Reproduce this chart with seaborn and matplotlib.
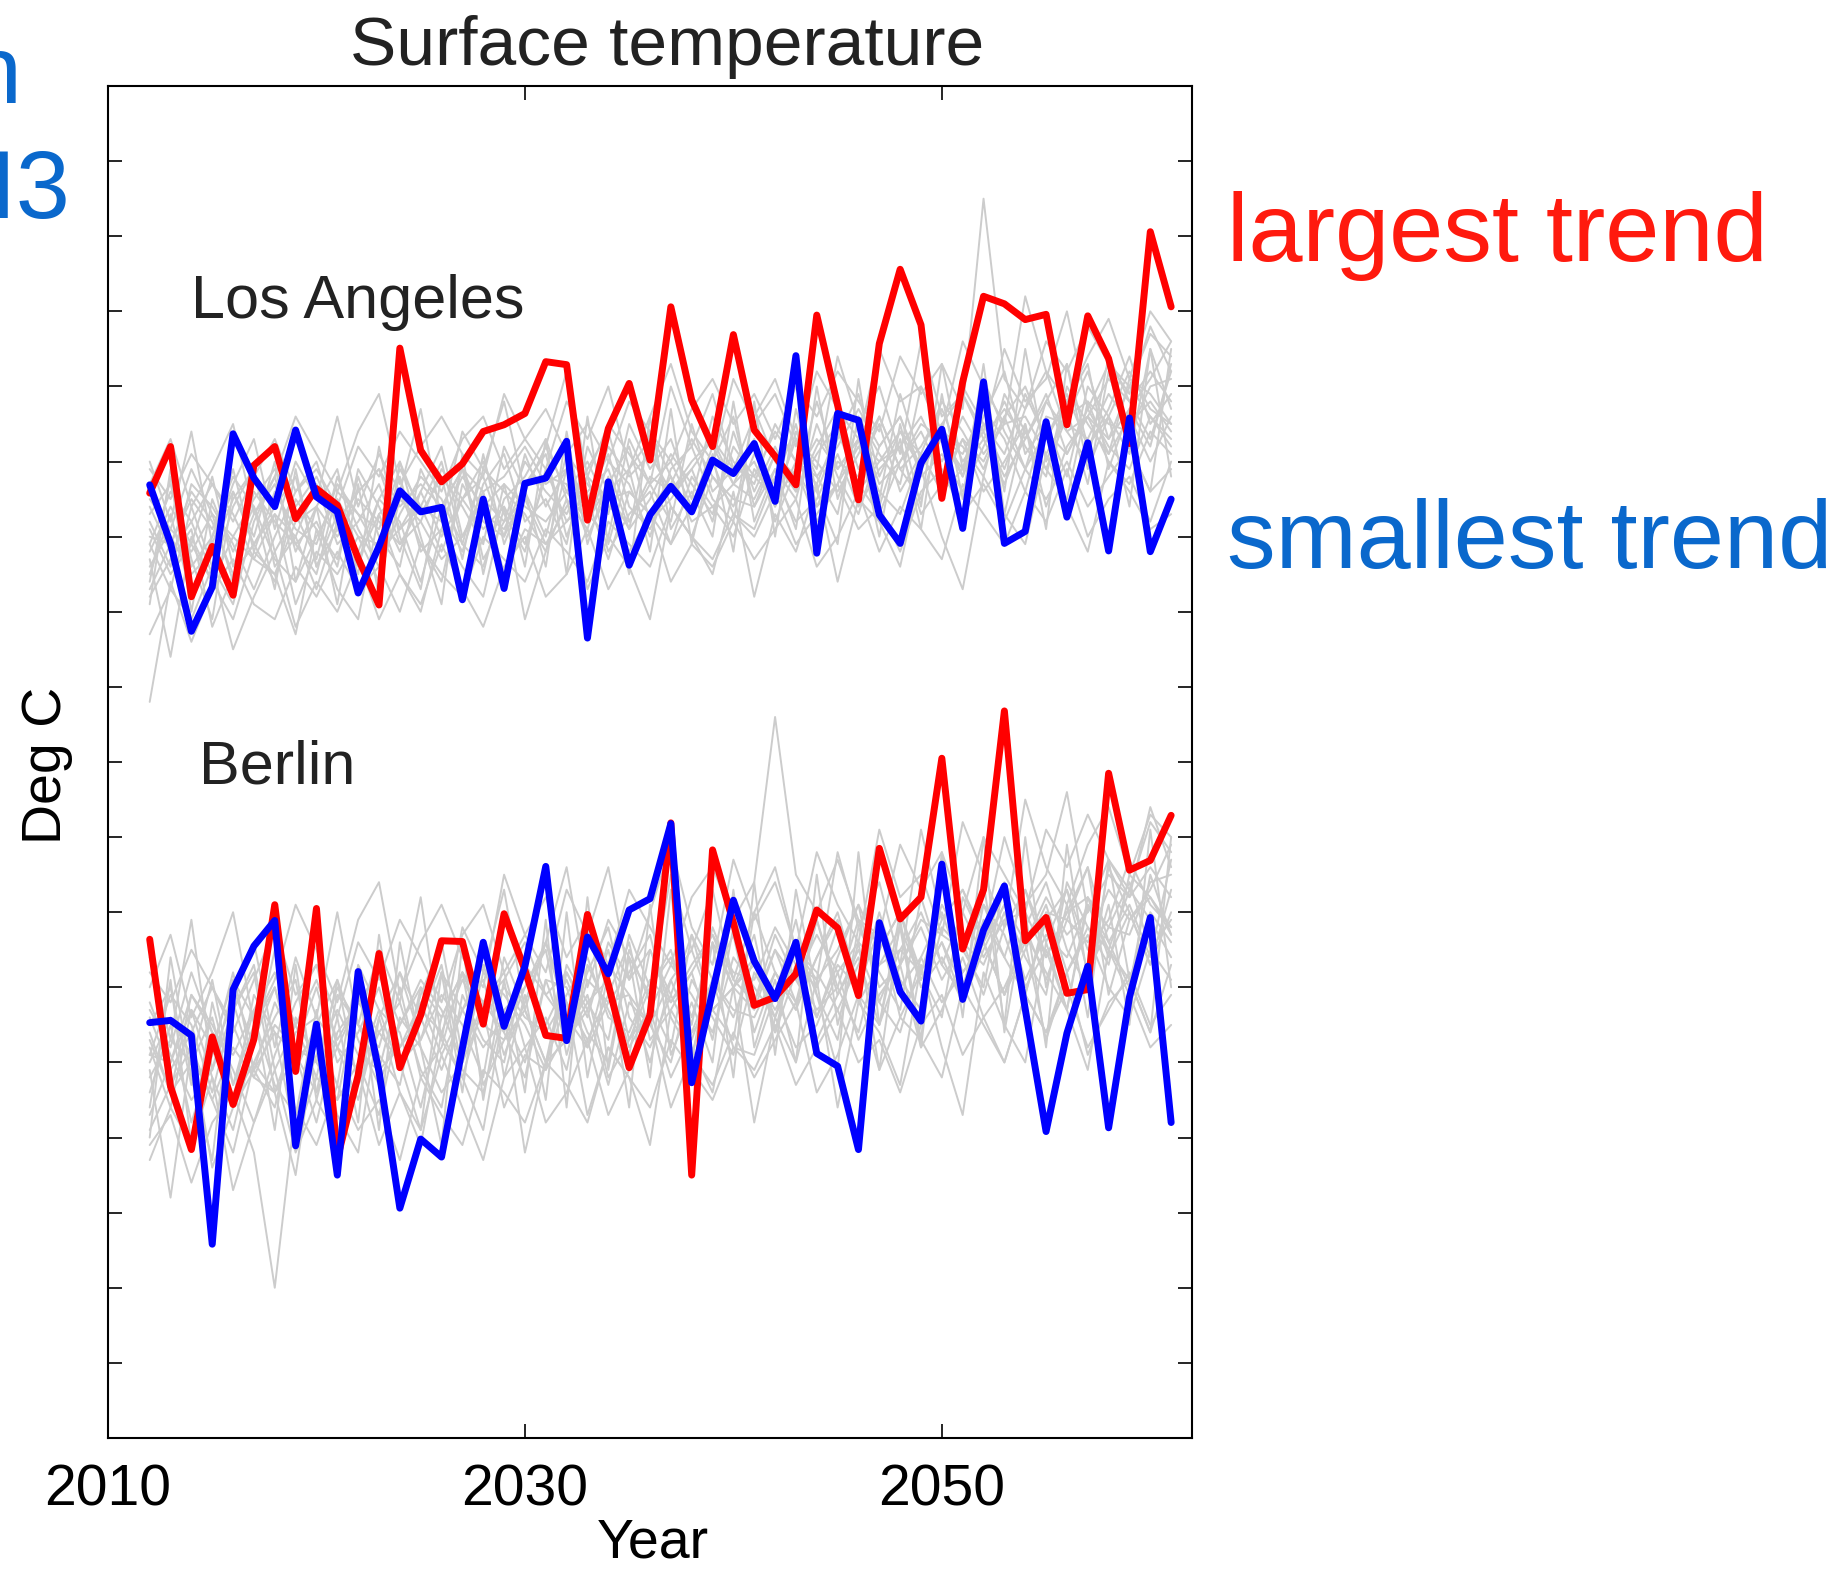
import numpy as np
import pandas as pd
import matplotlib
matplotlib.use("Agg")
import matplotlib.pyplot as plt
import seaborn as sns

# ---------------- data ----------------
years = list(range(2012, 2062))

la_largest = [12.58, 13.20, 11.20, 11.87, 11.22, 12.95, 13.20, 12.24, 12.64, 12.42,
              11.71, 11.09, 14.51, 13.15, 12.73, 12.97, 13.40, 13.49, 13.64, 14.33,
              14.29, 12.22, 13.44, 14.04, 13.02, 15.06, 13.82, 13.20, 14.69, 13.42,
              13.07, 12.69, 14.95, 13.75, 12.49, 14.57, 15.56, 14.82, 12.51, 14.06,
              15.20, 15.10, 14.89, 14.96, 13.49, 14.94, 14.37, 13.24, 16.06, 15.06]
la_smallest = [12.69, 11.91, 10.74, 11.33, 13.37, 12.78, 12.40, 13.42, 12.53, 12.33,
               11.25, 11.87, 12.61, 12.33, 12.39, 11.16, 12.50, 11.31, 12.71, 12.78,
               13.27, 10.65, 12.73, 11.62, 12.29, 12.67, 12.33, 13.02, 12.84, 13.24,
               12.47, 14.41, 11.78, 13.64, 13.55, 12.29, 11.91, 12.98, 13.43, 12.11,
               14.06, 11.91, 12.07, 13.53, 12.26, 13.25, 11.81, 13.58, 11.80, 12.50]
berlin_largest = [6.64, 4.68, 3.84, 5.34, 4.44, 5.31, 7.10, 4.88, 7.05, 3.72,
                  4.83, 6.45, 4.93, 5.63, 6.62, 6.61, 5.51, 6.98, 6.23, 5.36,
                  5.32, 6.97, 6.04, 4.93, 5.63, 8.19, 3.50, 7.83, 6.86, 5.76,
                  5.87, 6.18, 7.03, 6.79, 5.89, 7.85, 6.91, 7.20, 9.05, 6.51,
                  7.30, 9.68, 6.62, 6.93, 5.92, 5.97, 8.85, 7.56, 7.69, 8.29]
berlin_smallest = [5.53, 5.56, 5.36, 2.58, 5.97, 6.55, 6.89, 3.89, 5.51, 3.50,
                   6.21, 4.88, 3.06, 3.98, 3.74, 5.19, 6.60, 5.48, 6.28, 7.61,
                   5.29, 6.67, 6.18, 7.03, 7.18, 8.18, 4.73, 5.94, 7.16, 6.35,
                   5.85, 6.60, 5.12, 4.95, 3.84, 6.86, 5.94, 5.55, 7.64, 5.84,
                   6.76, 7.35, 5.71, 4.08, 5.39, 6.28, 4.13, 5.87, 6.93, 4.20]

# other ensemble members (grey)
la_m1 = [11.5, 12.3, 11.2, 12.0, 12.6, 11.9, 11.4, 12.5, 12.1, 11.7,
         12.8, 12.0, 11.6, 12.9, 12.3, 11.8, 12.7, 13.1, 12.2, 12.5,
         11.9, 13.2, 12.6, 12.1, 13.4, 12.8, 12.3, 13.0, 13.6, 12.4,
         13.1, 12.7, 13.8, 12.9, 13.3, 12.5, 13.9, 13.0, 13.5, 12.8,
         14.1, 13.4, 12.9, 13.8, 14.3, 13.2, 13.7, 14.4, 13.5, 13.9]
la_m2 = [11.9, 11.3, 12.4, 11.6, 11.1, 12.2, 12.8, 11.8, 12.4, 12.9,
         11.7, 12.3, 12.6, 11.9, 11.4, 12.7, 12.2, 12.0, 13.1, 12.4,
         12.9, 12.3, 12.0, 13.3, 12.7, 12.2, 13.5, 12.6, 12.9, 13.2,
         12.4, 13.4, 12.8, 12.3, 13.6, 13.1, 12.7, 14.0, 13.3, 12.9,
         13.6, 14.2, 13.1, 13.5, 12.8, 14.0, 13.6, 13.1, 14.5, 13.7]
la_m3 = [12.6, 12.0, 11.5, 11.8, 12.5, 12.9, 11.6, 12.0, 11.3, 12.2,
         12.6, 12.9, 12.1, 12.4, 13.0, 11.9, 11.6, 12.5, 12.8, 13.3,
         12.5, 12.1, 13.0, 12.7, 12.0, 12.9, 13.2, 12.5, 12.2, 13.7,
         13.0, 12.6, 13.2, 13.7, 12.9, 13.5, 12.6, 13.1, 13.8, 13.4,
         12.9, 13.6, 14.0, 13.3, 13.8, 14.3, 12.9, 13.7, 14.1, 14.6]
la_m4 = [11.2, 11.7, 12.1, 10.8, 11.5, 11.9, 12.3, 11.1, 11.8, 11.5,
         12.0, 11.4, 12.5, 12.2, 11.7, 12.0, 12.6, 11.5, 12.1, 11.9,
         12.4, 12.8, 11.8, 12.3, 12.6, 11.9, 12.4, 13.0, 12.3, 12.1,
         12.8, 12.2, 12.5, 13.1, 12.4, 12.9, 13.2, 12.3, 12.7, 13.3,
         12.6, 13.0, 13.5, 12.4, 13.2, 13.6, 13.0, 12.7, 13.4, 13.1]
la_m5 = [12.2, 11.6, 12.7, 12.4, 11.9, 11.3, 12.0, 12.6, 13.0, 12.1,
         11.6, 12.5, 13.0, 12.3, 12.8, 12.4, 11.9, 13.2, 12.6, 12.0,
         13.1, 12.7, 12.3, 13.5, 12.9, 13.3, 12.5, 13.6, 13.0, 12.7,
         13.5, 13.0, 12.6, 13.3, 13.9, 12.8, 13.4, 13.1, 12.6, 14.0,
         13.5, 12.9, 13.7, 14.2, 13.4, 13.0, 14.4, 13.8, 13.3, 14.2]
la_m6 = [11.6, 12.1, 11.8, 12.3, 11.4, 12.6, 12.2, 11.9, 11.5, 12.6,
         12.3, 11.8, 12.1, 12.6, 12.0, 12.5, 13.0, 12.3, 11.8, 12.9,
         12.2, 12.6, 12.9, 12.1, 12.5, 13.1, 12.7, 12.3, 13.2, 12.8,
         12.5, 13.3, 13.0, 12.6, 13.1, 13.6, 12.9, 13.2, 13.7, 13.0,
         13.4, 12.8, 13.3, 13.9, 13.1, 13.6, 13.3, 14.0, 13.6, 13.2]
la_m7 = [9.8, 11.4, 10.6, 11.3, 11.7, 11.1, 10.9, 11.6, 11.2, 11.8,
         11.3, 11.6, 11.0, 11.9, 11.5, 11.2, 12.0, 11.7, 11.4, 12.1,
         11.8, 11.4, 12.2, 11.9, 11.6, 12.4, 12.0, 11.7, 12.3, 12.0,
         12.6, 11.9, 12.3, 12.7, 12.1, 12.4, 11.8, 12.6, 12.9, 12.3,
         12.7, 12.2, 12.9, 12.5, 13.0, 12.4, 12.8, 13.2, 12.6, 12.9]
la_m8 = [12.9, 12.5, 13.1, 12.7, 12.2, 12.8, 13.3, 12.6, 12.9, 12.4,
         13.2, 12.8, 13.4, 13.0, 12.6, 13.3, 13.6, 12.9, 13.3, 13.7,
         13.1, 13.5, 13.0, 13.8, 13.4, 13.0, 13.7, 14.1, 13.5, 13.9,
         13.3, 14.0, 13.6, 14.2, 13.8, 13.4, 14.4, 13.9, 14.3, 13.7,
         16.5, 14.1, 13.7, 14.6, 14.2, 14.8, 14.3, 14.0, 14.7, 14.4]
la_m9 = [11.8, 12.4, 11.9, 11.4, 12.0, 11.7, 12.3, 12.0, 12.7, 11.9,
         12.2, 12.7, 11.9, 12.2, 12.9, 12.5, 12.1, 12.4, 11.9, 12.8,
         12.7, 12.0, 12.6, 12.9, 13.3, 12.4, 12.0, 12.8, 12.5, 12.4,
         12.9, 12.5, 13.5, 12.8, 12.3, 13.2, 13.6, 12.8, 13.1, 12.6,
         13.2, 13.8, 13.2, 12.8, 14.0, 13.5, 13.1, 14.1, 13.9, 13.5]
la_m10 = [12.4, 11.8, 12.2, 12.7, 12.3, 11.7, 11.5, 12.2, 12.4, 12.0,
          12.5, 12.2, 11.9, 12.4, 12.2, 12.8, 12.4, 12.7, 12.4, 12.2,
          12.6, 13.0, 12.4, 12.2, 12.8, 12.6, 12.9, 13.3, 12.7, 12.5,
          13.1, 12.8, 13.3, 12.9, 13.3, 13.0, 13.2, 13.6, 13.0, 13.6,
          13.1, 13.5, 13.6, 13.1, 13.6, 13.8, 13.5, 13.4, 14.0, 14.1]
la_m11 = [11.4, 12.8, 11.0, 12.5, 11.8, 12.4, 11.3, 12.9, 11.6, 12.3,
          11.5, 13.2, 12.0, 11.3, 12.8, 11.7, 13.1, 11.9, 12.6, 11.6,
          13.4, 11.9, 12.8, 11.5, 13.6, 12.1, 12.6, 12.0, 13.8, 12.2,
          12.9, 12.1, 14.0, 12.5, 13.3, 12.0, 13.5, 12.4, 14.3, 12.9,
          13.9, 12.6, 14.5, 13.0, 13.7, 12.7, 14.2, 13.2, 12.6, 14.5]
la_m12 = [12.0, 11.9, 12.5, 12.1, 12.8, 12.4, 11.7, 11.4, 12.0, 12.5,
          12.0, 11.9, 12.8, 11.8, 12.1, 12.9, 12.3, 12.1, 12.7, 13.1,
          12.0, 12.8, 12.5, 12.6, 12.3, 12.8, 12.2, 12.4, 12.7, 13.3,
          12.2, 12.9, 12.4, 12.7, 13.5, 12.7, 13.0, 13.5, 13.3, 13.1,
          13.7, 13.3, 12.6, 13.6, 13.5, 13.3, 13.9, 13.5, 13.8, 13.4]
la_m13 = [13.0, 12.2, 13.4, 11.9, 12.7, 13.3, 12.1, 13.0, 12.5, 13.6,
          12.4, 13.1, 12.6, 13.7, 12.2, 13.4, 12.9, 13.8, 12.6, 13.2,
          14.2, 12.8, 13.5, 13.1, 12.7, 14.0, 13.2, 13.9, 12.9, 13.6,
          14.1, 13.3, 12.9, 14.4, 13.5, 14.0, 13.1, 14.6, 13.6, 13.9,
          13.4, 14.5, 13.8, 14.1, 15.0, 13.7, 14.3, 13.9, 14.8, 14.2]
la_m14 = [10.7, 11.3, 10.9, 11.6, 10.5, 11.2, 11.8, 10.8, 11.4, 11.0,
          11.7, 10.9, 11.5, 11.1, 11.9, 11.3, 10.8, 11.6, 12.0, 11.2,
          11.5, 12.1, 11.3, 11.8, 12.3, 11.4, 11.9, 11.6, 12.2, 11.7,
          12.1, 12.5, 11.6, 12.0, 12.6, 11.8, 12.4, 12.1, 11.7, 12.7,
          12.3, 11.9, 12.6, 12.2, 12.9, 12.0, 12.5, 12.8, 12.2, 13.0]
la_m15 = [12.1, 11.5, 11.9, 12.8, 11.6, 12.3, 12.7, 11.9, 12.2, 11.6,
          12.9, 12.4, 11.8, 12.6, 13.2, 12.0, 12.5, 12.2, 13.0, 12.6,
          12.3, 12.9, 13.4, 12.4, 12.1, 12.7, 13.3, 12.8, 12.4, 13.1,
          12.7, 13.5, 12.4, 13.0, 12.8, 13.6, 12.9, 12.5, 13.4, 13.2,
          12.8, 13.9, 13.4, 12.9, 13.6, 14.2, 13.3, 13.7, 13.2, 14.3]
la_m16 = [11.7, 10.4, 12.0, 11.4, 10.9, 11.8, 11.5, 10.7, 12.1, 11.3,
          10.9, 12.3, 11.5, 11.0, 12.1, 11.6, 11.2, 12.4, 10.9, 11.8,
          12.5, 11.3, 12.0, 11.6, 10.9, 12.4, 12.0, 11.5, 12.6, 11.2,
          12.3, 11.8, 12.7, 11.4, 12.5, 12.2, 11.6, 12.9, 12.0, 11.3,
          12.8, 12.3, 11.9, 13.1, 12.4, 11.8, 13.0, 12.6, 12.1, 12.3]
la_m17 = [12.7, 13.3, 12.4, 12.9, 13.5, 12.3, 12.8, 13.6, 13.1, 12.6,
          13.4, 13.9, 12.7, 13.2, 13.6, 13.1, 12.8, 13.9, 13.3, 12.9,
          13.8, 13.3, 14.0, 12.9, 13.6, 14.3, 13.4, 13.0, 14.1, 13.5,
          13.9, 13.2, 14.2, 13.7, 13.3, 14.5, 13.8, 14.0, 13.4, 14.6,
          14.0, 13.5, 15.2, 14.2, 13.8, 14.4, 14.9, 14.1, 15.0, 14.6]
la_m18 = [11.9, 12.6, 12.2, 11.5, 12.4, 12.9, 11.8, 12.3, 11.7, 12.8,
          12.1, 11.6, 12.3, 12.8, 12.5, 11.9, 12.9, 12.6, 12.3, 11.8,
          12.9, 12.5, 13.1, 12.2, 12.7, 13.0, 12.4, 13.2, 12.7, 13.0,
          12.4, 13.0, 12.7, 13.4, 12.7, 12.3, 13.0, 13.4, 12.8, 13.3,
          13.0, 13.6, 12.9, 13.4, 13.1, 13.7, 13.2, 12.9, 13.6, 13.3]
la_m19 = [11.3, 11.9, 12.6, 12.2, 11.5, 11.9, 12.4, 12.8, 11.6, 12.1,
          11.8, 12.5, 12.2, 11.4, 12.4, 12.9, 11.7, 12.2, 12.5, 11.9,
          12.2, 12.5, 11.7, 12.6, 12.3, 11.9, 12.8, 12.4, 12.0, 12.9,
          12.5, 12.9, 12.2, 12.7, 13.2, 12.6, 12.3, 13.1, 12.6, 12.9,
          13.3, 12.7, 13.4, 12.9, 12.5, 13.8, 13.1, 13.6, 13.0, 13.6]
la_m20 = [12.3, 12.7, 11.6, 12.0, 12.9, 11.8, 12.6, 12.1, 11.9, 12.7,
          12.3, 12.1, 12.9, 12.4, 11.8, 12.5, 12.8, 12.0, 12.6, 13.2,
          12.6, 12.2, 12.7, 13.2, 12.2, 12.5, 12.9, 12.2, 13.4, 12.6,
          13.2, 12.6, 13.1, 13.5, 12.6, 13.0, 13.4, 12.9, 13.3, 12.8,
          13.5, 13.1, 13.9, 13.3, 13.9, 13.2, 13.6, 14.2, 13.7, 13.5]
la_m21 = [11.1, 12.9, 11.7, 10.9, 12.6, 12.0, 13.0, 11.4, 12.4, 11.1,
          12.7, 11.2, 13.0, 12.0, 11.1, 13.1, 11.5, 12.7, 11.6, 13.3,
          11.5, 13.6, 11.9, 12.9, 11.8, 13.7, 11.9, 13.1, 11.8, 13.8,
          12.0, 13.7, 12.6, 11.9, 14.1, 12.4, 13.3, 12.1, 13.9, 12.5,
          14.3, 12.3, 13.5, 12.1, 14.3, 12.9, 13.6, 12.4, 14.5, 12.8]
la_m22 = [12.5, 12.1, 12.9, 12.3, 12.0, 12.5, 12.9, 12.4, 12.8, 12.2,
          12.6, 12.9, 12.4, 12.7, 12.4, 12.9, 12.6, 12.8, 13.2, 12.7,
          12.9, 12.4, 13.2, 12.8, 13.1, 12.6, 13.0, 13.3, 12.9, 12.8,
          13.4, 13.0, 12.8, 13.2, 13.7, 13.2, 13.6, 12.9, 13.5, 13.9,
          13.3, 13.7, 13.3, 13.8, 13.4, 13.6, 14.1, 13.8, 14.2, 13.8]

be_m1 = [4.6, 5.5, 4.2, 5.1, 5.8, 4.9, 4.4, 5.6, 5.0, 4.5,
         5.9, 5.1, 4.7, 6.0, 5.3, 4.8, 5.8, 6.2, 5.2, 5.6,
         4.9, 6.3, 5.7, 5.1, 6.5, 5.9, 5.3, 6.1, 6.7, 5.4,
         6.2, 5.8, 6.9, 5.9, 6.4, 5.5, 7.0, 6.1, 6.6, 5.8,
         7.1, 6.4, 5.9, 6.9, 7.3, 6.2, 6.8, 7.4, 6.5, 6.9]
be_m2 = [5.2, 4.4, 5.7, 4.8, 4.1, 5.3, 6.0, 4.9, 5.5, 6.1,
         4.7, 5.4, 5.8, 4.9, 4.4, 5.9, 5.3, 5.0, 6.3, 5.5,
         6.1, 5.4, 5.0, 6.5, 5.8, 5.2, 6.7, 5.7, 6.0, 6.4,
         5.4, 6.6, 5.9, 5.3, 6.8, 6.2, 5.7, 7.2, 6.3, 5.9,
         6.6, 7.3, 6.0, 6.5, 5.7, 7.1, 6.6, 6.0, 7.5, 6.7]
be_m3 = [5.8, 5.1, 4.5, 4.9, 5.7, 6.2, 4.6, 5.1, 4.2, 5.4,
         5.8, 6.2, 5.2, 5.6, 6.3, 4.9, 4.6, 5.7, 6.0, 6.6,
         5.6, 5.2, 6.3, 5.9, 5.0, 6.1, 6.5, 5.7, 5.3, 7.0,
         6.2, 5.7, 6.4, 7.0, 6.0, 6.8, 5.6, 6.2, 7.1, 6.6,
         5.9, 6.8, 7.3, 6.4, 7.0, 7.6, 5.9, 6.9, 7.3, 7.9]
be_m4 = [4.1, 4.7, 5.2, 3.6, 4.4, 4.9, 5.4, 4.0, 4.8, 4.5,
         5.0, 4.3, 5.6, 5.2, 4.6, 5.0, 5.7, 4.4, 5.1, 4.9,
         5.4, 5.9, 4.8, 5.3, 5.7, 4.8, 5.4, 6.1, 5.2, 5.1,
         5.9, 5.2, 5.5, 6.2, 5.3, 5.9, 6.3, 5.2, 5.7, 6.4,
         5.6, 6.0, 6.6, 5.3, 6.2, 6.7, 6.0, 5.6, 6.5, 6.1]
be_m5 = [5.3, 4.6, 5.9, 5.5, 4.9, 4.2, 5.1, 5.8, 6.3, 5.2,
         4.5, 5.6, 6.2, 5.3, 5.9, 5.5, 4.8, 6.4, 5.7, 5.0,
         6.3, 5.8, 5.3, 6.7, 6.0, 6.5, 5.5, 6.8, 6.1, 5.8,
         6.7, 6.1, 5.6, 6.4, 7.1, 5.8, 6.5, 6.2, 5.6, 7.2,
         6.6, 5.9, 6.8, 7.4, 6.5, 6.0, 7.6, 7.0, 6.3, 7.3]
be_m6 = [4.8, 5.3, 5.0, 5.6, 4.5, 5.9, 5.4, 5.1, 4.6, 5.9,
         5.5, 4.9, 5.2, 5.8, 5.1, 5.7, 6.3, 5.4, 4.8, 6.1,
         5.3, 5.8, 6.1, 5.2, 5.7, 6.3, 5.9, 5.4, 6.4, 6.0,
         5.6, 6.5, 6.2, 5.7, 6.3, 6.9, 6.0, 6.4, 7.0, 6.2,
         6.6, 5.9, 6.5, 7.1, 6.2, 6.8, 6.5, 7.3, 6.9, 6.4]
be_m7 = [3.9, 4.3, 3.4, 4.2, 4.6, 3.8, 2.0, 4.4, 3.9, 4.7,
         4.1, 4.5, 3.7, 4.8, 4.3, 3.9, 4.9, 4.6, 4.2, 5.0,
         4.7, 4.2, 5.2, 4.8, 4.4, 5.3, 4.9, 4.5, 5.2, 4.9,
         5.5, 4.7, 5.2, 5.7, 5.0, 5.3, 4.6, 5.5, 5.9, 5.1,
         5.6, 5.0, 5.9, 5.4, 6.0, 5.2, 5.7, 6.2, 5.5, 5.9]
be_m8 = [6.2, 5.8, 6.5, 6.0, 5.4, 6.1, 6.8, 5.9, 6.3, 5.6,
         6.6, 6.1, 6.9, 6.4, 5.8, 6.7, 7.1, 6.2, 6.7, 7.2,
         6.4, 6.9, 6.3, 7.3, 6.8, 6.3, 7.2, 7.6, 6.9, 7.4,
         9.6, 7.5, 7.0, 7.7, 6.9, 6.7, 7.9, 7.3, 7.8, 7.0,
         8.0, 7.5, 7.0, 8.1, 7.6, 8.3, 7.7, 7.3, 8.2, 7.8]
be_m9 = [5.0, 5.6, 5.1, 4.5, 5.2, 4.8, 5.5, 5.2, 6.0, 5.0,
         5.4, 6.0, 5.0, 5.3, 6.2, 5.7, 5.2, 5.6, 5.0, 6.1,
         6.0, 5.2, 5.8, 6.2, 6.7, 5.6, 5.1, 6.1, 5.7, 5.6,
         6.2, 5.7, 6.9, 6.0, 5.4, 6.5, 7.0, 6.0, 6.4, 5.8,
         6.5, 7.1, 6.4, 5.9, 7.4, 6.8, 6.3, 7.5, 7.2, 6.7]
be_m10 = [5.6, 4.9, 5.4, 6.0, 5.5, 4.8, 4.6, 5.4, 5.6, 5.2,
          5.8, 5.4, 5.0, 5.7, 5.4, 6.1, 5.6, 6.0, 5.6, 5.4,
          5.9, 6.4, 5.6, 5.4, 6.1, 5.8, 6.2, 6.7, 6.0, 5.7,
          6.5, 6.1, 6.7, 6.2, 6.6, 6.3, 6.5, 7.0, 6.3, 7.0,
          6.4, 6.9, 7.0, 6.4, 7.0, 7.2, 6.8, 6.7, 7.4, 7.5]
be_m11 = [4.4, 6.1, 3.9, 5.8, 4.7, 5.7, 4.1, 6.3, 4.5, 5.6,
          4.2, 6.7, 5.0, 4.1, 6.2, 4.6, 6.6, 4.8, 5.9, 4.5,
          7.0, 4.8, 6.2, 4.4, 7.1, 5.1, 5.8, 5.0, 7.3, 5.2,
          6.1, 5.0, 7.5, 5.5, 6.6, 4.9, 6.9, 5.3, 7.8, 5.9,
          7.4, 5.5, 8.0, 6.0, 7.1, 5.6, 7.7, 6.1, 5.4, 8.0]
be_m12 = [5.1, 5.0, 5.7, 5.2, 6.1, 5.6, 4.7, 4.3, 5.1, 5.7,
          5.1, 4.9, 6.0, 4.8, 5.2, 6.2, 5.5, 5.3, 6.0, 6.5,
          5.1, 6.1, 5.8, 5.9, 5.5, 6.1, 5.4, 5.7, 6.0, 6.7,
          5.4, 6.2, 5.7, 6.0, 6.9, 6.0, 6.3, 6.9, 6.7, 6.5,
          7.1, 6.7, 5.9, 7.0, 6.9, 6.6, 7.3, 6.9, 7.2, 6.8]
be_m13 = [6.4, 5.3, 6.9, 4.9, 6.0, 6.6, 5.2, 6.4, 5.6, 7.0,
          5.5, 6.5, 5.8, 7.2, 5.3, 6.8, 6.2, 7.3, 5.7, 6.6,
          7.6, 6.0, 6.9, 6.4, 5.9, 7.5, 6.5, 7.3, 6.1, 7.0,
          7.6, 6.5, 6.1, 7.8, 6.8, 7.4, 6.3, 8.1, 6.9, 7.3,
          6.7, 8.0, 7.1, 7.5, 8.6, 7.0, 7.7, 7.2, 8.4, 7.6]
be_m14 = [3.7, 4.4, 3.9, 4.8, 3.3, 4.2, 4.9, 3.8, 4.5, 4.0,
          4.9, 3.9, 4.6, 4.1, 5.1, 4.4, 3.7, 4.8, 5.2, 4.2,
          4.6, 5.3, 4.3, 4.9, 5.6, 4.4, 5.1, 4.7, 5.4, 4.8,
          5.3, 5.8, 4.6, 5.1, 5.9, 4.9, 5.6, 5.3, 4.8, 6.0,
          5.5, 5.0, 5.9, 5.4, 6.2, 5.1, 5.8, 6.1, 5.4, 6.3]
be_m15 = [5.4, 4.6, 5.0, 6.1, 4.7, 5.5, 6.0, 5.0, 5.4, 4.7,
          6.3, 5.7, 4.9, 5.9, 6.6, 5.1, 5.8, 5.4, 6.3, 5.9,
          5.5, 6.2, 6.8, 5.6, 5.2, 5.9, 6.7, 6.1, 5.6, 6.4,
          5.9, 6.9, 5.6, 6.3, 6.0, 7.0, 6.1, 5.7, 6.8, 6.5,
          6.0, 7.4, 6.8, 6.1, 6.9, 7.6, 6.6, 7.1, 6.4, 7.7]
be_m16 = [4.9, 3.2, 5.2, 4.5, 3.8, 5.0, 4.6, 3.5, 5.4, 4.3,
          3.8, 5.6, 4.6, 3.9, 5.4, 4.8, 4.1, 5.7, 3.8, 5.0,
          5.8, 4.3, 5.2, 4.8, 3.9, 5.7, 5.2, 4.6, 6.0, 4.2,
          5.6, 5.0, 6.1, 4.4, 5.8, 5.4, 4.7, 6.3, 5.2, 4.3,
          6.2, 5.5, 5.0, 6.6, 5.7, 4.9, 6.5, 5.9, 5.2, 5.5]
be_m17 = [6.0, 6.7, 5.6, 6.2, 7.0, 5.5, 6.1, 7.1, 6.5, 5.8,
          6.9, 7.4, 5.9, 6.6, 7.1, 6.4, 6.0, 7.5, 6.7, 6.2,
          7.3, 6.7, 7.6, 6.1, 7.0, 7.9, 6.8, 6.3, 7.7, 6.9,
          7.4, 6.5, 7.8, 7.1, 6.6, 8.1, 7.2, 7.5, 6.7, 8.2,
          7.5, 6.8, 8.5, 7.6, 7.1, 7.9, 8.4, 7.5, 8.3, 8.0]
be_m18 = [5.1, 5.9, 5.5, 4.6, 5.7, 6.3, 4.9, 5.5, 4.8, 6.1,
          5.3, 4.7, 5.5, 6.1, 5.7, 5.0, 6.2, 5.9, 5.5, 4.9,
          6.2, 5.7, 6.5, 5.3, 6.0, 6.4, 5.6, 6.6, 6.0, 6.3,
          5.6, 6.3, 6.0, 6.8, 5.9, 5.5, 6.3, 6.8, 6.1, 6.6,
          6.3, 7.0, 6.1, 6.7, 6.4, 7.1, 6.5, 6.1, 7.0, 6.6]
be_m19 = [4.3, 5.0, 5.9, 5.4, 4.5, 5.0, 5.6, 6.1, 4.6, 5.2,
          4.9, 5.7, 5.4, 4.4, 5.6, 6.2, 4.7, 5.3, 5.7, 5.0,
          5.3, 5.7, 4.7, 5.8, 5.5, 5.0, 6.1, 5.6, 5.1, 6.2,
          5.7, 6.2, 5.3, 5.9, 6.5, 5.8, 5.4, 6.4, 5.8, 6.2,
          6.6, 5.9, 6.7, 6.2, 5.7, 7.2, 6.4, 7.0, 6.3, 7.0]
be_m20 = [5.5, 6.0, 4.7, 5.1, 6.2, 4.9, 5.8, 5.2, 5.0, 6.0,
          5.5, 5.2, 6.2, 5.6, 4.9, 5.7, 6.1, 5.1, 5.8, 6.6,
          5.8, 5.3, 5.9, 6.6, 5.3, 5.7, 6.2, 5.3, 6.8, 5.8,
          6.5, 5.8, 6.4, 6.9, 5.8, 6.3, 6.8, 6.1, 6.6, 6.0,
          6.9, 6.4, 7.3, 6.6, 7.3, 6.5, 6.9, 7.7, 7.1, 6.8]
be_m21 = [4.0, 6.4, 4.8, 3.7, 6.0, 5.2, 6.5, 4.3, 5.7, 3.9,
          6.1, 4.1, 6.6, 5.2, 3.9, 6.6, 4.5, 6.1, 4.6, 6.9,
          4.4, 7.2, 4.9, 6.4, 4.8, 7.3, 5.0, 6.6, 4.8, 7.4,
          5.1, 7.3, 5.9, 4.9, 7.8, 5.5, 6.8, 5.2, 7.5, 5.6,
          8.0, 5.4, 7.0, 5.2, 7.9, 6.1, 7.1, 5.5, 8.1, 6.0]
be_m22 = [5.7, 5.2, 6.2, 5.4, 5.1, 5.7, 6.2, 5.5, 6.1, 5.3,
          5.8, 6.2, 5.5, 6.0, 5.6, 6.2, 5.8, 6.1, 6.6, 5.9,
          6.2, 5.6, 6.6, 6.1, 6.5, 5.8, 6.3, 6.7, 6.2, 6.1,
          6.8, 6.3, 6.1, 6.5, 7.1, 6.5, 7.0, 6.2, 6.9, 7.3,
          6.6, 7.1, 6.6, 7.2, 6.7, 7.0, 7.5, 7.2, 7.6, 7.2]

la_members = [la_m1, la_m2, la_m3, la_m4, la_m5, la_m6, la_m7, la_m8, la_m9, la_m10, la_m11,
              la_m12, la_m13, la_m14, la_m15, la_m16, la_m17, la_m18, la_m19, la_m20, la_m21, la_m22]
be_members = [be_m1, be_m2, be_m3, be_m4, be_m5, be_m6, be_m7, be_m8, be_m9, be_m10, be_m11,
              be_m12, be_m13, be_m14, be_m15, be_m16, be_m17, be_m18, be_m19, be_m20, be_m21, be_m22]

x_ticks = [2010, 2030, 2050]
y_ticks = list(range(1, 18))

# ---------------- figure ----------------
sns.set_style("white")
plt.rcParams['font.family'] = ['Liberation Sans', 'DejaVu Sans']

W, H = 1845, 1569
fig = plt.figure(figsize=(W / 100, H / 100), dpi=100)
ax = fig.add_axes([108 / W, 1 - 1438 / H, (1192 - 108) / W, (1438 - 86) / H])

rows = []
for city, members in (("LA", la_members), ("BE", be_members)):
    for i, m in enumerate(members):
        for yr, v in zip(years, m):
            rows.append({"year": yr, "temp": v, "unit": f"{city}{i}"})
grey_df = pd.DataFrame(rows)

sns.lineplot(data=grey_df, x="year", y="temp", units="unit", estimator=None,
             color="#cccccc", lw=1.4, ax=ax, legend=False)

for series in (la_largest, berlin_largest):
    sns.lineplot(x=years, y=series, color="#ff0000", lw=5, ax=ax, legend=False)
for series in (la_smallest, berlin_smallest):
    sns.lineplot(x=years, y=series, color="#0000ff", lw=5, ax=ax, legend=False)

ax.set_xlim(2010, 2062)
ax.set_ylim(0, 18)
ax.set_xticks(x_ticks)
ax.set_yticks(y_ticks)
ax.set_yticklabels([])
ax.tick_params(axis="both", direction="in", length=10, width=1.2,
               left=True, bottom=True, top=True, right=True,
               labelsize=41, pad=18, colors="black")
for s in ax.spines.values():
    s.set_linewidth(1.5)
    s.set_color("black")
ax.set_xlabel("")
ax.set_ylabel("")

# texts
fig.text(667 / W, 1 - 65 / H, "Surface temperature", fontsize=50, ha="center",
         va="baseline", color="#222222")
fig.text(191 / W, 1 - 318 / H, "Los Angeles", fontsize=44, color="#222222",
         ha="left", va="baseline")
fig.text(199 / W, 1 - 783 / H, "Berlin", fontsize=44, color="#222222",
         ha="left", va="baseline")
fig.text(47 / W, 1 - 765 / H, "Deg C", fontsize=40, rotation=90,
         ha="center", va="center", color="black")
fig.text(653 / W, 1 - 1558 / H, "Year", fontsize=40, ha="center",
         va="baseline", color="black")
fig.text(1227 / W, 1 - 261 / H, "largest trend", fontsize=70, color="#ff1a0e",
         ha="left", va="baseline")
fig.text(1227 / W, 1 - 568 / H, "smallest trend", fontsize=70, color="#0a68cc",
         ha="left", va="baseline")
# labels of a neighbouring panel, cut by the left edge as in the original
fig.text(22 / W, 1 - 103 / H, "ensemble mean", fontsize=70, color="#0a68cc",
         ha="right", va="baseline")
fig.text(70 / W, 1 - 218 / H, "CCSM3", fontsize=70, color="#0a68cc",
         ha="right", va="baseline")

fig.savefig("out.png", dpi=100)
